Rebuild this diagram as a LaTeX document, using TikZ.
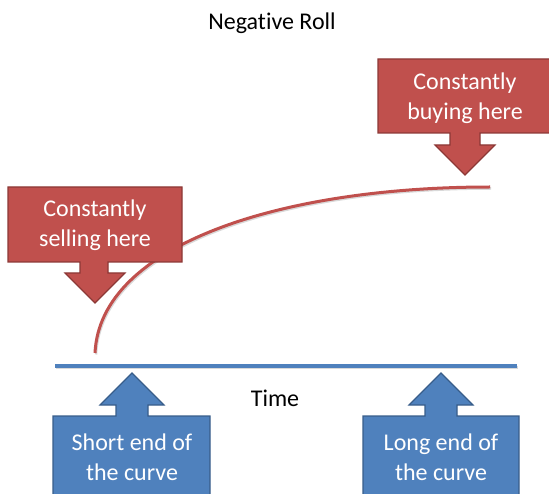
\documentclass[tikz,border=0pt]{standalone}
\usepackage{fontspec}
\setmainfont{Carlito}[Ligatures=NoCommon]
\begin{document}
\begin{tikzpicture}[x=1pt,y=-1pt,
  redfill/.style={fill={rgb,255:red,192;green,80;blue,77},draw={rgb,255:red,140;green,56;blue,54},line width=1.2pt,line join=miter},
  bluefill/.style={fill={rgb,255:red,79;green,129;blue,189},draw={rgb,255:red,56;green,93;blue,138},line width=1.2pt,line join=miter},
  calltext/.style={text=white,font=\fontsize{24}{30}\selectfont,align=center,inner sep=0pt},
  plaintext/.style={text=black,font=\fontsize{24}{28}\selectfont,inner sep=0pt},
  shade/.style={draw=black!15,line width=2.5pt,line cap=butt}]
\useasboundingbox (0,0) rectangle (549,494);
\clip (0,0) rectangle (549,494);

% title
\node[plaintext] (title) at (272,23) {Negative Roll};

% time axis
\coordinate (ax0) at (55,366);
\coordinate (ax1) at (517,366);
\draw[shade] ([shift={(1,1.5)}]ax0) -- ([shift={(1,1.5)}]ax1);
\draw[draw={rgb,255:red,79;green,129;blue,189},line width=3pt] (ax0) -- (ax1);
\node[plaintext] (time) at (275,398) {Time};

% price curve
\coordinate (c0) at (95,353);
\coordinate (c1) at (490,187);
\draw[shade] ([shift={(1,1.5)}]c0) .. controls (101,246.5) and (281,188.5) .. ([shift={(1,1.5)}]c1);
\draw[draw={rgb,255:red,192;green,80;blue,77},line width=3pt] (c0) .. controls (100,245) and (280,187) .. (c1);

% sell callout
\draw[redfill] (8,187) -- (182,187) -- (182,262) -- (108,262) -- (108,273) -- (125,273)
  -- (95,303) -- (65,273) -- (80,273) -- (80,262) -- (8,262) -- cycle;
\node[calltext] (sell) at (95,225) {Constantly\\selling here};

% buy callout
\draw[redfill] (378,59) -- (560,59) -- (560,133) -- (480,133) -- (480,145) -- (495,145)
  -- (465,175) -- (435,145) -- (450,145) -- (450,133) -- (378,133) -- cycle;
\node[calltext] (buy) at (465,98) {Constantly\\buying here};

% short end callout
\draw[bluefill] (53,510) -- (53,416) -- (116,416) -- (116,405) -- (100,405) -- (132,373)
  -- (164,405) -- (148,405) -- (148,416) -- (210,416) -- (210,510);
\node[calltext] (short) at (132,457) {Short end of\\the curve};

% long end callout
\draw[bluefill] (363,510) -- (363,416) -- (425,416) -- (425,405) -- (409,405) -- (441,373)
  -- (473,405) -- (457,405) -- (457,416) -- (519,416) -- (519,510);
\node[calltext] (long) at (441,457) {Long end of\\the curve};
\end{tikzpicture}
\end{document}
